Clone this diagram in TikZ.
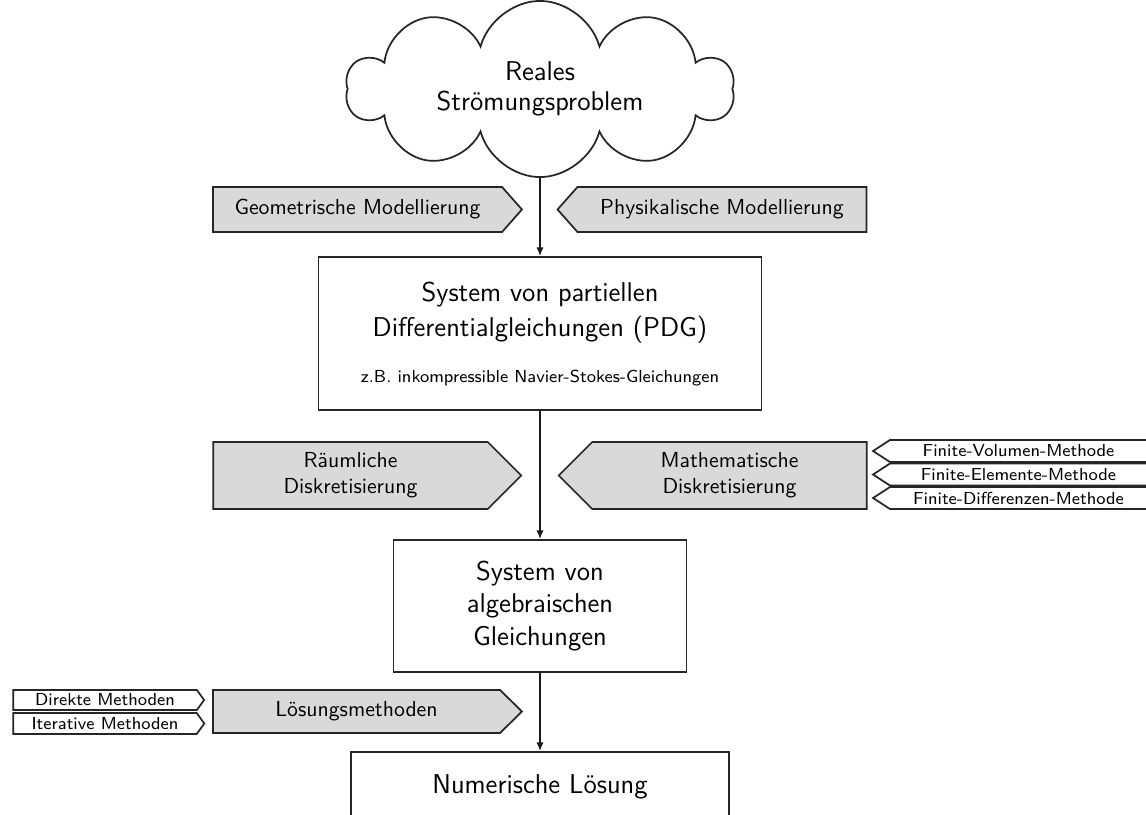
\documentclass[tikz,border=0pt]{standalone}
\usetikzlibrary{shapes.symbols,arrows.meta,backgrounds}
\def\pxu{0.46pt}
\begin{document}
\begin{tikzpicture}[x=0.46pt,y=-0.46pt,font=\sffamily,
  box/.style={draw=black!85, line width=0.8pt, fill=white, align=center, inner sep=0pt},
  sig/.style={signal, draw=black!85, line width=0.8pt, fill=black!15, align=center, inner sep=0pt, font=\sffamily\normalsize},
  smallsig/.style={signal, draw=black!85, line width=0.8pt, fill=white, inner sep=0pt, font=\sffamily\footnotesize},
  bigfont/.style={font=\sffamily\fontsize{12.5}{#1}\selectfont},
  flow/.style={-{Latex[length=4pt,width=3.4pt]}, line width=0.8pt, draw=black!90}]
\clip (0,0) rectangle (1146,814);

% cloud
\node[cloud, cloud puffs=10, aspect=2.6, draw=black!85, line width=0.8pt, fill=white,
  minimum width=387*\pxu, minimum height=148*\pxu, inner sep=0pt, align=center, bigfont=14pt]
  (cloud) at (540,89) {Reales\\Strömungsproblem};

% modelling
\node[sig, signal to=east, signal pointer angle=97, minimum width=309*\pxu, minimum height=45*\pxu]
  (geo) at (357.5,209.5) {Geometrische Modellierung};
\node[sig, signal to=west, signal pointer angle=97, minimum width=309*\pxu, minimum height=45*\pxu]
  (phys) at (722,209.5) {Physikalische Modellierung};

% PDG box
\node[box, minimum width=443*\pxu, minimum height=153*\pxu] (pdg) at (540,333.5) {};
\node[align=center, inner sep=0pt, bigfont=16pt] (pdgtext) at (540,313)
  {System von partiellen\\Differentialgleichungen (PDG)};
\node[inner sep=0pt, font=\sffamily\footnotesize] (pdgex) at (540,378)
  {z.B. inkompressible Navier-Stokes-Gleichungen};

% discretisation
\node[sig, signal to=east, signal pointer angle=90, minimum width=308*\pxu, minimum height=67*\pxu]
  (raum) at (350.5,475.5) {Räumliche\\Diskretisierung};
\node[sig, signal to=west, signal pointer angle=90, minimum width=308*\pxu, minimum height=67*\pxu]
  (math) at (729.5,475.5) {Mathematische\\Diskretisierung};
\node[smallsig, signal to=west, signal pointer angle=66, minimum width=274*\pxu, minimum height=22*\pxu]
  (fvm) at (1018.5,451) {Finite-Volumen-Methode};
\node[smallsig, signal to=west, signal pointer angle=66, minimum width=274*\pxu, minimum height=22*\pxu]
  (fem) at (1018.5,474.5) {Finite-Elemente-Methode};
\node[smallsig, signal to=west, signal pointer angle=66, minimum width=274*\pxu, minimum height=22*\pxu]
  (fdm) at (1018.5,498) {Finite-Differenzen-Methode};

% algebraic system
\node[box, minimum width=293*\pxu, minimum height=132*\pxu, bigfont=15pt] (alg) at (540,606)
  {System von\\algebraischen\\Gleichungen};

% solution methods
\node[sig, signal to=east, signal pointer angle=89, minimum width=309*\pxu, minimum height=43*\pxu]
  (loes) at (356.5,711.5) {Lösungsmethoden};
\node[smallsig, signal to=east, signal pointer angle=108, minimum width=191*\pxu, minimum height=20*\pxu]
  (direkt) at (105,700) {Direkte Methoden};
\node[smallsig, signal to=east, signal pointer angle=108, minimum width=191*\pxu, minimum height=21*\pxu]
  (iter) at (105,723.5) {Iterative Methoden};

% numerical solution
\node[box, minimum width=378*\pxu, minimum height=70*\pxu, bigfont=15pt] (num) at (540,787)
  {Numerische Lösung};

% connectors
\begin{scope}[on background layer]
\draw[flow] (cloud.center) -- (pdg.north);
\end{scope}
\draw[flow] (pdg.south) -- (alg.north);
\draw[flow] (alg.south) -- (num.north);
\end{tikzpicture}
\end{document}
